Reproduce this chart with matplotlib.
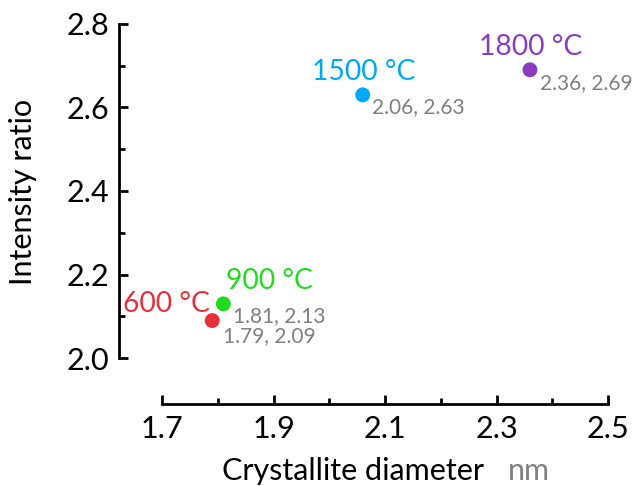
import matplotlib
matplotlib.use("Agg")
import matplotlib.pyplot as plt
from matplotlib.ticker import MultipleLocator

plt.rcParams['font.family'] = ['Lato', 'DejaVu Sans']

# Sintering temperatures and measured values
temps = ["600 °C", "900 °C", "1500 °C", "1800 °C"]
diameter = [1.79, 1.81, 2.06, 2.36]
ratio = [2.09, 2.13, 2.63, 2.69]
colors = ["#e8303a", "#1fdc1f", "#00a8f8", "#8a3cc0"]

# label placement: (dx, dy, ha) in points for the temperature tag
tag_offsets = [(-1.5, 6.5, "right"), (2, 11, "left"), (0.5, 11, "center"), (0.5, 11, "center")]
val_offsets = [(7.5, -15.5), (7, -13), (6.5, -13), (7, -14)]

fig = plt.figure(figsize=(6.38, 4.86), dpi=100)
ax = fig.add_axes([0.254, 0.263, 0.699, 0.688])

ax.scatter(diameter, ratio, s=115, c=colors, zorder=3, clip_on=False, linewidths=0)

for t, x, y, c, (dx, dy, ha), (vx, vy) in zip(temps, diameter, ratio, colors,
                                              tag_offsets, val_offsets):
    ax.annotate(t, (x, y), xytext=(dx, dy), textcoords="offset points",
                ha=ha, va="baseline", color=c, fontsize=20.3, annotation_clip=False)
    ax.annotate(f"{x:.2f}, {y:.2f}", (x, y), xytext=(vx, vy),
                textcoords="offset points", ha="left", va="baseline",
                color="#7f7f7f", fontsize=15, annotation_clip=False)

ax.set_xlim(1.7, 2.5)
ax.set_ylim(2.0, 2.8)
ax.xaxis.set_minor_locator(MultipleLocator(0.1))
ax.yaxis.set_minor_locator(MultipleLocator(0.1))
ax.set_xticks([1.7, 1.9, 2.1, 2.3, 2.5])
ax.set_xticklabels(["1.7", "1.9", "2.1", "2.3", "2.5"])
ax.set_yticks([2.0, 2.2, 2.4, 2.6, 2.8])
ax.set_yticklabels(["2.0", "2.2", "2.4", "2.6", "2.8"])

for side in ("top", "right"):
    ax.spines[side].set_visible(False)
ax.spines["left"].set_position(("outward", 31))
ax.spines["bottom"].set_position(("outward", 33))
ax.spines["left"].set_bounds(2.0, 2.8)
ax.spines["bottom"].set_bounds(1.7, 2.5)
for side in ("left", "bottom"):
    ax.spines[side].set_linewidth(2.0)

ax.tick_params(which="major", direction="in", length=6.5, width=2.0,
               labelsize=22, colors="black")
ax.tick_params(which="minor", direction="in", length=4.3, width=2.0)
ax.tick_params(axis="y", which="major", pad=7)
ax.tick_params(axis="x", which="major", pad=8)

fig.text(0.036, 0.605, "Intensity ratio", rotation=90, ha="center", va="center",
         fontsize=22)
fig.text(0.348, 0.0125, "Crystallite diameter", ha="left", va="baseline",
         fontsize=22)
fig.text(0.796, 0.0125, "nm", ha="left", va="baseline", fontsize=22,
         color="#808080")

fig.savefig("out.png", dpi=100)
